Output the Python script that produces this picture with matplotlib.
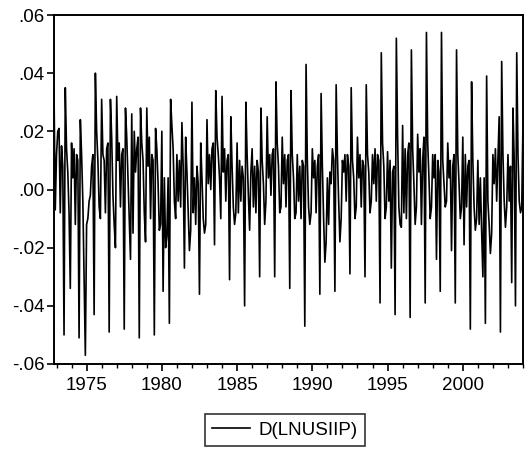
import numpy as np
import matplotlib
matplotlib.use("Agg")
import matplotlib.pyplot as plt
from matplotlib.ticker import FixedLocator, MultipleLocator

plt.rcParams['font.family'] = ['Liberation Sans', 'DejaVu Sans']

# Monthly log-difference of US industrial production, starting 1972M11
start_year, start_month = 1972, 11

values_1970s = [
    0.034, -0.007,
    0.012, 0.020, 0.021, -0.008, 0.015, 0.008, -0.050, 0.035, 0.014, 0.006, -0.008, -0.034,
    0.016, 0.004, 0.014, -0.012, 0.012, 0.010, -0.051, 0.024, 0.012, -0.004, -0.030, -0.057,
    -0.012, -0.010, -0.004, -0.002, 0.008, 0.012, -0.043, 0.040, 0.020, 0.010, -0.006, -0.010,
    0.031, 0.012, 0.010, -0.008, 0.014, 0.016, -0.049, 0.031, 0.018, -0.002, -0.012, -0.020,
    0.032, 0.010, 0.016, -0.006, 0.012, 0.014, -0.048, 0.028, 0.018, 0.004, -0.010, -0.024,
    0.026, -0.015, 0.020, 0.006, 0.014, 0.018, -0.051, 0.028, 0.016, 0.010, -0.008, -0.018,
    0.028, 0.008, 0.018, -0.010, 0.012, 0.010, -0.050, 0.021, 0.014, 0.002, -0.014, -0.012,
]
values_1980s = [
    0.020, -0.035, 0.004, -0.020, -0.016, 0.004, -0.046, 0.031, 0.022, 0.014, -0.004, -0.010,
    0.012, -0.004, 0.010, -0.006, 0.023, 0.008, -0.027, 0.018, 0.006, -0.008, -0.021, -0.014,
    0.030, -0.008, 0.004, -0.012, 0.008, 0.002, -0.036, 0.016, 0.004, -0.010, -0.015, -0.012,
    0.024, 0.002, 0.012, 0.000, 0.014, 0.016, -0.019, 0.034, 0.018, 0.012, 0.004, -0.010,
    0.032, 0.006, 0.014, -0.004, 0.010, 0.012, -0.031, 0.025, 0.008, -0.006, -0.012, -0.008,
    0.016, -0.008, 0.010, -0.004, 0.008, 0.004, -0.040, 0.030, 0.012, -0.002, -0.014, 0.006,
    0.014, -0.006, 0.008, -0.008, 0.010, 0.006, -0.030, 0.028, 0.010, 0.002, -0.012, -0.004,
    0.025, 0.004, 0.012, -0.002, 0.012, 0.014, -0.030, 0.037, 0.016, 0.008, -0.008, -0.006,
    0.018, 0.002, 0.012, -0.006, 0.010, 0.012, -0.034, 0.034, 0.012, 0.004, -0.010, -0.008,
    0.012, -0.004, 0.008, -0.010, 0.010, 0.008, -0.047, 0.043, 0.010, -0.006, -0.012, -0.008,
]
values_1990s = [
    0.014, 0.004, 0.010, -0.008, 0.008, 0.012, -0.036, 0.033, 0.008, -0.010, -0.025, -0.018,
    0.004, -0.012, 0.006, 0.002, 0.014, 0.010, -0.035, 0.036, 0.012, -0.004, -0.018, -0.010,
    0.010, 0.006, 0.012, -0.004, 0.012, 0.008, -0.029, 0.035, 0.010, 0.004, -0.010, -0.006,
    0.018, 0.004, 0.012, -0.006, 0.010, 0.008, -0.030, 0.036, 0.012, 0.006, -0.008, -0.004,
    0.012, 0.002, 0.014, -0.004, 0.012, 0.010, -0.039, 0.047, 0.016, 0.008, -0.010, -0.006,
    0.013, -0.004, 0.010, -0.027, 0.006, 0.008, -0.043, 0.052, 0.018, -0.006, -0.012, -0.013,
    0.022, -0.008, 0.014, -0.010, 0.012, 0.016, -0.044, 0.048, 0.014, 0.002, -0.012, -0.006,
    0.019, 0.006, 0.014, -0.012, 0.010, 0.018, -0.039, 0.054, 0.016, 0.004, -0.010, -0.006,
    0.012, 0.004, 0.012, -0.024, 0.010, 0.006, -0.035, 0.054, 0.010, 0.002, -0.006, -0.004,
    0.016, 0.004, 0.010, -0.021, 0.008, 0.012, -0.039, 0.048, 0.012, 0.002, -0.010, -0.006,
]
values_2000s = [
    0.018, -0.019, 0.012, -0.006, 0.008, 0.010, -0.048, 0.037, 0.010, -0.006, -0.014, -0.010,
    0.010, -0.012, 0.004, -0.014, -0.030, 0.004, -0.046, 0.039, -0.004, -0.012, -0.022, -0.015,
    0.012, 0.002, 0.014, -0.004, 0.010, 0.025, -0.049, 0.044, 0.012, -0.004, -0.013, -0.006,
    0.012, -0.004, 0.008, -0.032, 0.028, 0.010, -0.040, 0.047, 0.012, -0.004, -0.008, -0.006,
    0.024,
]

series_name = "D(LNUSIIP)"
year_ticks = [1975, 1980, 1985, 1990, 1995, 2000]
y_ticks = [-0.06, -0.04, -0.02, 0.00, 0.02, 0.04, 0.06]
y_labels = ["-.06", "-.04", "-.02", ".00", ".02", ".04", ".06"]

values = np.array(values_1970s + values_1980s + values_1990s + values_2000s)
t = start_year + (start_month - 1) / 12 + np.arange(len(values)) / 12

W, H = 526, 453
fig = plt.figure(figsize=(W / 100, H / 100), dpi=100)
ax = fig.add_axes([54 / W, (H - 364) / H, 469 / W, 349 / H])

ax.plot(t, values, color='black', lw=1.2, label=series_name)

ax.set_xlim(t[0], t[-1])
ax.set_ylim(-0.06, 0.06)
ax.xaxis.set_major_locator(FixedLocator(year_ticks))
ax.xaxis.set_minor_locator(MultipleLocator(1))
ax.set_xticklabels([str(y) for y in year_ticks])
ax.set_yticks(y_ticks)
ax.set_yticklabels(y_labels)

ax.tick_params(axis='both', which='major', direction='out', length=5, width=1.2,
               labelsize=13.5, color='black')
ax.tick_params(axis='x', which='minor', direction='out', length=3, width=1.0)
ax.tick_params(axis='x', pad=4)
ax.tick_params(axis='y', pad=2)
for s in ax.spines.values():
    s.set_linewidth(1.4)

leg = fig.legend(loc='center', bbox_to_anchor=(285 / W, 1 - 430 / H),
                 frameon=True, fancybox=False, edgecolor='black',
                 fontsize=13.5, handlelength=2.0, borderpad=0.42,
                 handletextpad=0.45)
leg.get_frame().set_linewidth(1.2)

fig.savefig("out.png", dpi=100)
